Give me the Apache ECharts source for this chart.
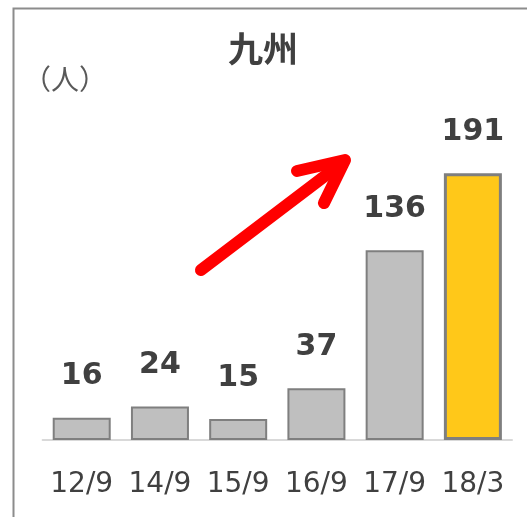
<!DOCTYPE html>
<html>
<head>
<meta charset="utf-8">
<script src="https://cdn.jsdelivr.net/npm/echarts@6/dist/echarts.min.js"></script>
<style>
  html, body { margin: 0; padding: 0; background: #fff; }
  #chart { width: 527px; height: 517px; }
</style>
</head>
<body>
<div id="chart"></div>
<script>
// Kyushu headcount by survey period
const titleText = '九州';
const unitText = '（人）';
const categories = ['12/9', '14/9', '15/9', '16/9', '17/9', '18/3'];
const values = [16, 24, 15, 37, 136, 191];
const highlightIndex = 5; // latest period is shown in yellow

const grayFill = '#bfbfbf';
const grayEdge = '#7f7f7f';
const highlightFill = '#ffc819';
const textDark = '#404040';

const chart = echarts.init(document.getElementById('chart'), null, { renderer: 'canvas' });

const barData = values.map((v, i) => ({
  value: v,
  itemStyle: i === highlightIndex
    ? { color: highlightFill, borderColor: grayEdge, borderWidth: 3 }
    : { color: grayFill, borderColor: grayEdge, borderWidth: 2 }
}));

chart.setOption({
  animation: false,
  backgroundColor: '#ffffff',
  title: {
    text: titleText,
    left: 223,
    top: 26,
    textStyle: {
      fontFamily: 'Noto Sans CJK JP',
      fontSize: 35,
      fontWeight: 'bold',
      color: textDark
    }
  },
  grid: { left: 42.6, right: 15, top: 160.8, bottom: 77, containLabel: false },
  xAxis: {
    type: 'category',
    data: categories,
    axisLine: { show: true, lineStyle: { color: '#d9d9d9', width: 2 } },
    axisTick: { show: false },
    axisLabel: {
      interval: 0,
      color: textDark,
      fontFamily: 'DejaVu Sans',
      fontSize: 28,
      margin: 31
    }
  },
  yAxis: {
    type: 'value',
    min: 0,
    max: 200,
    show: false,
    splitLine: { show: false }
  },
  series: [{
    type: 'bar',
    data: barData,
    barWidth: 58,
    label: {
      show: true,
      position: 'top',
      distance: 26,
      color: textDark,
      fontFamily: 'DejaVu Sans',
      fontWeight: 'bold',
      fontSize: 30
    }
  }],
  graphic: [
    {
      // outer frame (left and top edges visible)
      type: 'rect',
      shape: { x: 13.5, y: 8.5, width: 700, height: 700 },
      style: { fill: 'none', stroke: '#8c8c8c', lineWidth: 2 },
      silent: true
    },
    {
      type: 'text',
      left: 23,
      top: 65,
      style: {
        text: unitText,
        font: '28px "Noto Sans CJK JP"',
        fill: '#595959'
      }
    },
    {
      // upward trend arrow: shaft
      type: 'polyline',
      shape: { points: [[201, 270], [342, 163]] },
      style: { stroke: '#ff0000', lineWidth: 12, lineCap: 'round', lineJoin: 'round', fill: 'none' }
    },
    {
      // upward trend arrow: head
      type: 'polyline',
      shape: { points: [[297, 171], [345, 160], [324, 203]] },
      style: { stroke: '#ff0000', lineWidth: 12, lineCap: 'round', lineJoin: 'round', fill: 'none' }
    }
  ]
});
</script>
</body>
</html>
